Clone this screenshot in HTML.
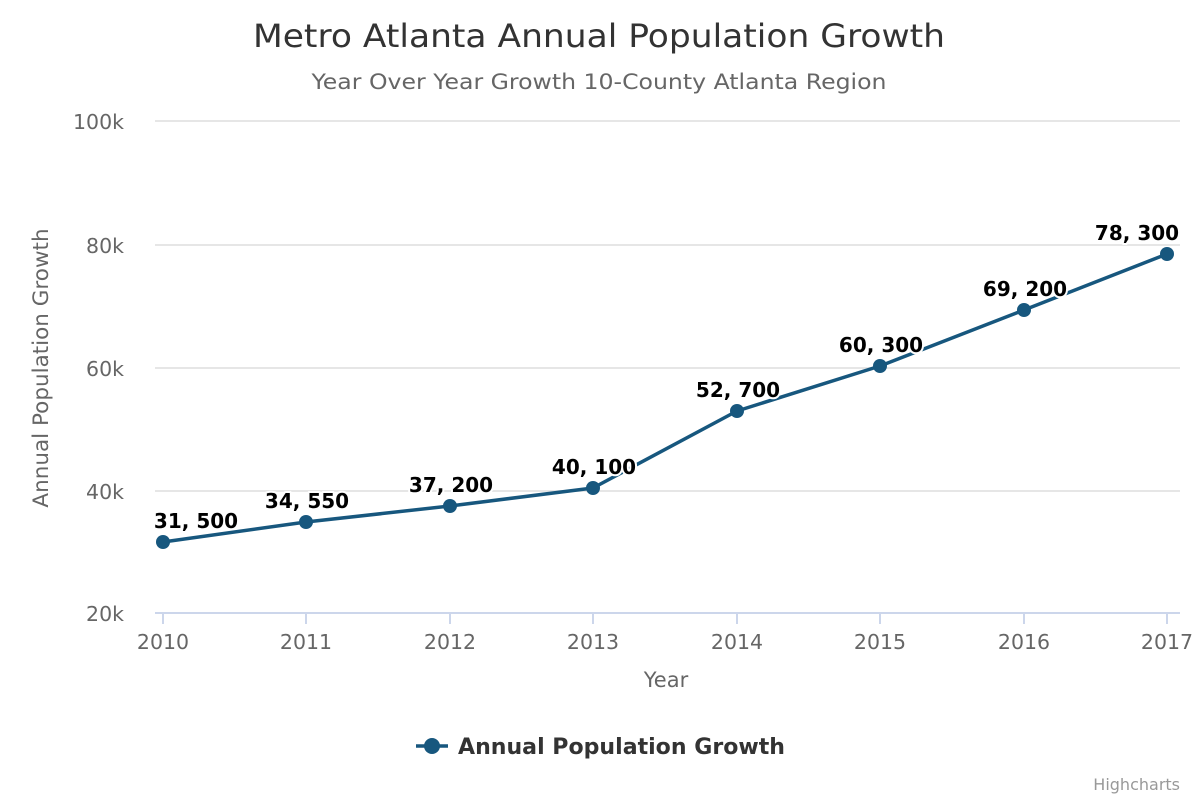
<!DOCTYPE html>
<html><head><meta charset="utf-8"><style>
html,body{margin:0;padding:0;background:#fff;}
svg{display:block;font-family:"DejaVu Sans","Liberation Sans",sans-serif;}
</style></head><body>
<svg width="1200" height="800" viewBox="0 0 1200 800" xmlns="http://www.w3.org/2000/svg">
<rect width="1200" height="800" fill="#fff"/>
<text x="599" y="47" text-anchor="middle" font-size="32" fill="#333" textLength="692" lengthAdjust="spacingAndGlyphs">Metro Atlanta Annual Population Growth</text>
<text x="599" y="89" text-anchor="middle" font-size="21" fill="#666" textLength="575" lengthAdjust="spacingAndGlyphs">Year Over Year Growth 10-County Atlanta Region</text>
<g stroke="#e6e6e6" stroke-width="2">
<line x1="155" y1="121" x2="1180" y2="121"/>
<line x1="155" y1="245" x2="1180" y2="245"/>
<line x1="155" y1="368" x2="1180" y2="368"/>
<line x1="155" y1="491" x2="1180" y2="491"/>
</g>
<line x1="155" y1="613" x2="1180" y2="613" stroke="#ccd6eb" stroke-width="2"/>
<g stroke="#ccd6eb" stroke-width="2">
<line x1="163" y1="613" x2="163" y2="624"/><line x1="306" y1="613" x2="306" y2="624"/>
<line x1="450" y1="613" x2="450" y2="624"/><line x1="593" y1="613" x2="593" y2="624"/>
<line x1="737" y1="613" x2="737" y2="624"/><line x1="880" y1="613" x2="880" y2="624"/>
<line x1="1024" y1="613" x2="1024" y2="624"/><line x1="1167" y1="613" x2="1167" y2="624"/>
</g>
<g font-size="20.5" fill="#666" text-anchor="end">
<text x="124" y="129">100k</text><text x="124" y="253">80k</text><text x="124" y="376">60k</text>
<text x="124" y="499">40k</text><text x="124" y="621">20k</text>
</g>
<g font-size="20.5" fill="#666" text-anchor="middle">
<text x="163" y="649">2010</text><text x="306" y="649">2011</text><text x="450" y="649">2012</text>
<text x="593" y="649">2013</text><text x="737" y="649">2014</text><text x="880" y="649">2015</text>
<text x="1024" y="649">2016</text><text x="1167" y="649">2017</text>
</g>
<text x="666" y="687" text-anchor="middle" font-size="21" fill="#666">Year</text>
<text transform="translate(48,368) rotate(-90)" text-anchor="middle" font-size="21.5" fill="#666">Annual Population Growth</text>
<polyline fill="none" stroke="#17577e" stroke-width="3.5" stroke-linejoin="round" points="163,542 306,522 450,506 593,488 737,411 880,366 1024,310 1167,254"/>
<g fill="#17577e">
<circle cx="163" cy="542" r="7"/><circle cx="306" cy="522" r="7"/><circle cx="450" cy="506" r="7"/>
<circle cx="593" cy="488" r="7"/><circle cx="737" cy="411" r="7"/><circle cx="880" cy="366" r="7"/>
<circle cx="1024" cy="310" r="7"/><circle cx="1167" cy="254" r="7"/>
</g>
<g font-size="20" font-weight="bold" fill="#000" text-anchor="middle" stroke="#fff" stroke-width="4" paint-order="stroke" stroke-linejoin="round">
<text x="196" y="528">31, 500</text><text x="307" y="508">34, 550</text><text x="451" y="492">37, 200</text>
<text x="594" y="474">40, 100</text><text x="738" y="397">52, 700</text><text x="881" y="352">60, 300</text>
<text x="1025" y="296">69, 200</text><text x="1137" y="240">78, 300</text>
</g>
<line x1="416" y1="746" x2="448" y2="746" stroke="#17577e" stroke-width="3.5"/>
<circle cx="432" cy="746" r="8" fill="#17577e"/>
<text x="458" y="754" font-size="22" font-weight="bold" fill="#333" textLength="327" lengthAdjust="spacingAndGlyphs">Annual Population Growth</text>
<text x="1180" y="790" text-anchor="end" font-size="16" fill="#999">Highcharts</text>
</svg>
</body></html>
